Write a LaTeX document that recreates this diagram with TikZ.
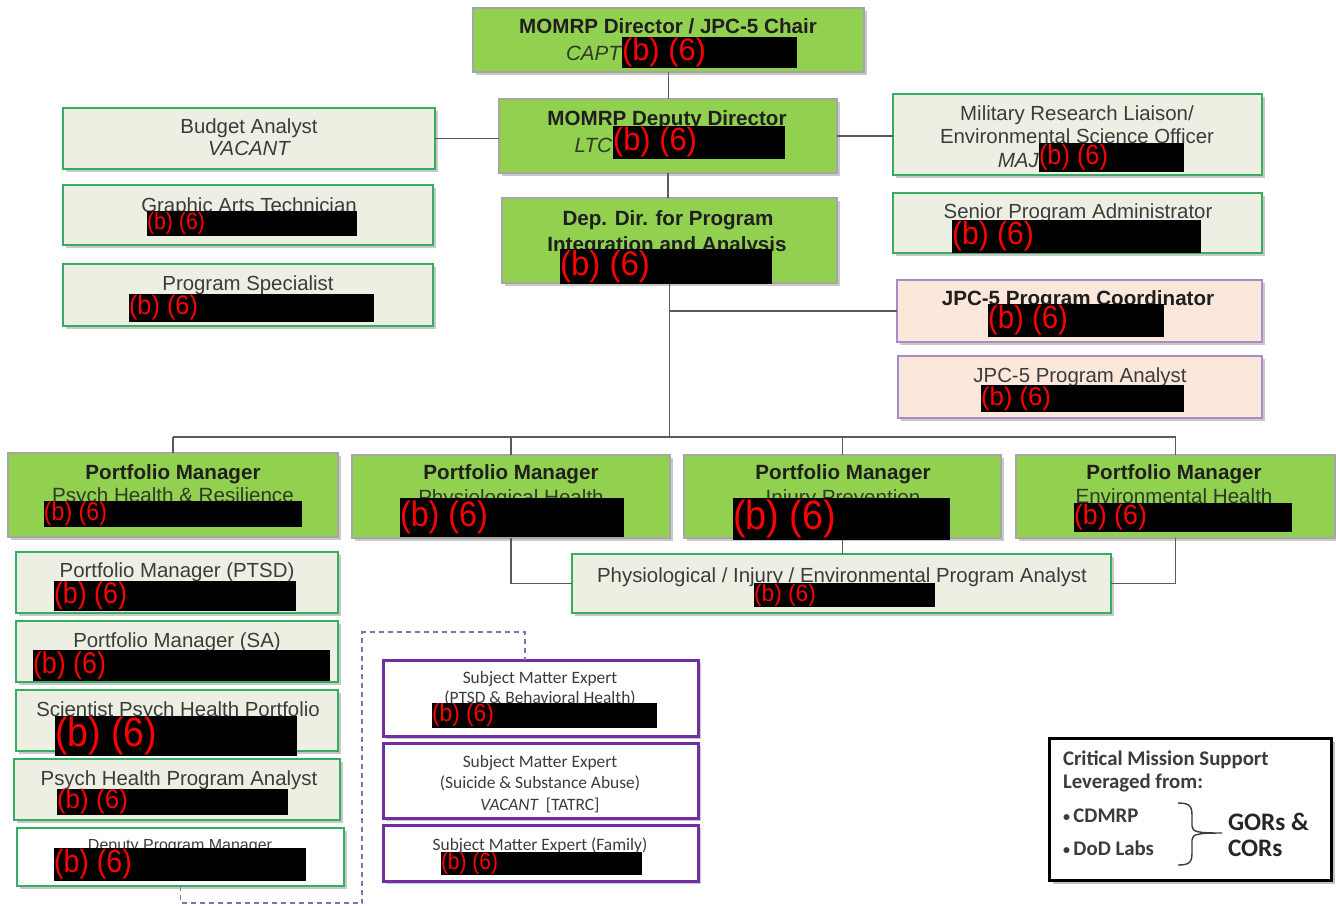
\documentclass[tikz,border=0pt]{standalone}
\usepackage{graphicx}
\usepackage{fontspec}
\setmainfont{Liberation Sans}
\newfontfamily\calib{Carlito}
\usetikzlibrary{fit,shadows}

\definecolor{topgreen}{HTML}{92D050}
\definecolor{paleg}{HTML}{ECEFE2}
\definecolor{edgeg}{HTML}{35AE62}
\definecolor{peach}{HTML}{FCE8DA}
\definecolor{lilac}{HTML}{A58DC6}
\definecolor{smepurple}{HTML}{7030A0}
\definecolor{linkgray}{HTML}{5A5A5A}
\definecolor{txtgray}{HTML}{3C3C3C}
\definecolor{subgreen}{HTML}{2F3A28}
\definecolor{dashlilac}{HTML}{8E6BB0}

\tikzset{
  every node/.style={inner sep=0pt, outer sep=0pt},
  shadowed/.style={drop shadow={shadow xshift=1.5pt, shadow yshift=-1.5pt, opacity=0.35, fill=black!60}},
  leadbox/.style={fill=topgreen, draw=black!35, line width=0.6pt, shadowed},
  staffbox/.style={fill=paleg, draw=edgeg, line width=1.4pt, shadowed},
  plainbox/.style={fill=white, draw=edgeg, line width=1.4pt, shadowed},
  jpcbox/.style={fill=peach, draw=lilac, line width=1pt, shadowed},
  smebox/.style={fill=white, draw=smepurple, line width=1.5pt, shadowed},
  keybox/.style={fill=white, draw=black, line width=1.5pt, drop shadow={shadow xshift=2pt, shadow yshift=-2pt, opacity=0.4, fill=black!60}},
  link/.style={draw=linkgray, line width=0.8pt},
  dotlink/.style={draw=dashlilac, line width=0.6pt, dash pattern=on 2.5pt off 2pt},
  ttl/.style={font=\fontsize{10.3}{12}\selectfont\bfseries, text=black!88, anchor=base},
  sub/.style={font=\fontsize{10.3}{12}\selectfont, text=subgreen, anchor=base},
  lbl/.style={font=\fontsize{10.2}{12}\selectfont, text=txtgray, anchor=base},
  rank/.style={font=\fontsize{10.3}{12}\selectfont\itshape, text=subgreen, anchor=base east},
  sme/.style={font=\calib\fontsize{8.7}{10}\selectfont, text=txtgray, anchor=base},
  keytxt/.style={font=\calib\bfseries\fontsize{10.4}{12}\selectfont, text=txtgray, anchor=base west},
  keybig/.style={font=\calib\bfseries\fontsize{12.6}{15}\selectfont, text=black!85, anchor=base west},
  redbar/.style={fill=black, draw=none}
}

% black bar with the red exemption code at its left end
\newcommand\redact[7]{%
  \node[redbar, fit={(#2,#3) (#4,#5)}] (#1) {};
  \node[anchor=west, text=red] (#1txt) at (#1.west) {\resizebox*{#6pt}{#7pt}{(b) (6)}};}
\newcommand\keydot{\raisebox{0.1ex}{\fontsize{7}{8}\selectfont •}\,}

\begin{document}
\begin{tikzpicture}[x=0.5pt, y=-0.5pt]
\useasboundingbox (0,0) rectangle (1336,905);
\fill[white] (0,0) rectangle (1336,905);

% ---------- boxes ----------
\node[leadbox, fit={(473,8) (864,72)}] (dir) {};
\node[leadbox, fit={(499,99) (837,173)}] (dep) {};
\node[leadbox, fit={(502,198) (837,283)}] (pia) {};

\node[staffbox, fit={(63,108) (435,169)}] (bud) {};
\node[staffbox, fit={(63,185) (433,245)}] (gat) {};
\node[staffbox, fit={(63,264) (433,326)}] (psp) {};

\node[staffbox, fit={(893,94) (1262,175)}] (mil) {};
\node[staffbox, fit={(893,193) (1262,253)}] (spa) {};
\node[jpcbox, fit={(897,280) (1262,342)}] (jpc) {};
\node[jpcbox, fit={(898,356) (1262,418)}] (jpa) {};

\node[leadbox, fit={(8,453) (338,537)}] (pmp) {};
\node[leadbox, fit={(352,455) (670,538)}] (pmh) {};
\node[leadbox, fit={(684,455) (1001,538)}] (pmi) {};
\node[leadbox, fit={(1016,455) (1335,538)}] (pme) {};

\node[staffbox, fit={(572,554) (1111,613)}] (ana) {};

\node[staffbox, fit={(16,552) (338,613)}] (ptsd) {};
\node[staffbox, fit={(16,621) (338,682)}] (sa) {};
\node[staffbox, fit={(16,690) (338,751)}] (sci) {};
\node[staffbox, fit={(14,759) (340,820)}] (pha) {};
\node[plainbox, fit={(17,828) (344,886)}] (dpm) {};

\node[smebox, fit={(383,660) (698,736)}] (smeA) {};
\node[smebox, fit={(383,743) (698,818)}] (smeB) {};
\node[smebox, fit={(383,825) (698,881)}] (smeC) {};

\node[keybox, fit={(1049,738) (1331,880)}] (key) {};

% ---------- connectors ----------
\coordinate (bus) at (668,437);
\coordinate (dtop) at (362,632);
\coordinate (dright) at (525,632);

\draw[link] (dir.south) -- (dir.south |- dep.north);
\draw[link] (dep.south) -- (dep.south |- pia.north);
\draw[link] (bud.east) -- (bud.east -| dep.west);
\draw[link] (dep.east) -- (dep.east -| mil.west);
\draw[link] (pia.south) -- (pia.south |- bus);
\draw[link] (pia.south |- jpc.west) -- (jpc.west);
\draw[link] (pmp.north |- bus) -- (pme.north |- bus);
\draw[link] (pmp.north |- bus) -- (pmp.north);
\draw[link] (pmh.north |- bus) -- (pmh.north);
\draw[link] (pmi.north |- bus) -- (pmi.north);
\draw[link] (pme.north |- bus) -- (pme.north);
\draw[link] (pmh.south) |- (ana.west);
\draw[link] (pmi.south) -- (pmi.south |- ana.north);
\draw[link] (pme.south) |- (ana.east);
\draw[dotlink] (dpm.south) -- ++(0,17) -| (dtop) -- (dright) -- (dright |- smeA.north);

% ---------- texts ----------
\node[ttl] (dirT) at (668,33) {MOMRP Director / JPC-5 Chair};
\node[rank] (dirK) at (621,60) {CAPT};
\node[ttl] (depT) at (667,125) {MOMRP Deputy Director};
\node[rank] (depK) at (612,152) {LTC};
\node[ttl] (piaT1) at (668,225) {Dep. Dir. for Program};
\node[ttl] (piaT2) at (667,251) {Integration and Analysis};

\node[lbl] (budT) at (249,133) {Budget Analyst};
\node[lbl, font=\fontsize{10.2}{12}\selectfont\itshape] (budV) at (249,155) {VACANT};
\node[lbl] (gatT) at (249,212) {Graphic Arts Technician};
\node[lbl] (pspT) at (248,290) {Program Specialist};

\node[lbl] (milT1) at (1077,120) {Military Research Liaison/};
\node[lbl] (milT2) at (1077,143) {Environmental Science Officer};
\node[rank, text=txtgray] (milK) at (1039,167) {MAJ};
\node[lbl] (spaT) at (1078,218) {Senior Program Administrator};
\node[ttl] (jpcT) at (1078,305) {JPC-5 Program Coordinator};
\node[lbl] (jpaT) at (1080,382) {JPC-5 Program Analyst};

\node[ttl] (pmpT) at (173,479) {Portfolio Manager};
\node[sub] (pmpS) at (173,502) {Psych Health \& Resilience};
\node[ttl] (pmhT) at (511,479) {Portfolio Manager};
\node[sub] (pmhS) at (511,504) {Physiological Health};
\node[ttl] (pmiT) at (843,479) {Portfolio Manager};
\node[sub] (pmiS) at (843,504) {Injury Prevention};
\node[ttl] (pmeT) at (1174,479) {Portfolio Manager};
\node[sub] (pmeS) at (1174,503) {Environmental Health};

\node[lbl] (anaT) at (842,582) {Physiological / Injury / Environmental Program Analyst};

\node[lbl] (ptsdT) at (177,577) {Portfolio Manager (PTSD)};
\node[lbl] (saT) at (177,647) {Portfolio Manager (SA)};
\node[lbl] (sciT) at (178,716) {Scientist Psych Health Portfolio};
\node[lbl] (phaT) at (179,785) {Psych Health Program Analyst};
\node[lbl, font=\fontsize{8}{10}\selectfont] (dpmT) at (180,850) {Deputy Program Manager};

\node[sme] (smeA1) at (540,683) {Subject Matter Expert};
\node[sme] (smeA2) at (540,703) {(PTSD \& Behavioral Health)};
\node[sme] (smeB1) at (540,767) {Subject Matter Expert};
\node[sme] (smeB2) at (540,788) {(Suicide \& Substance Abuse)};
\node[sme] (smeB3) at (540,810) {\itshape VACANT\upshape\ \ [TATRC]};
\node[sme] (smeC1) at (540,850) {Subject Matter Expert (Family)};

\node[keytxt] (key1) at (1063,765) {Critical Mission Support};
\node[keytxt] (key2) at (1063,788) {Leveraged from:};
\node[keytxt] (key3) at (1063,822) {\keydot CDMRP};
\node[keytxt] (key4) at (1063,855) {\keydot DoD Labs};
\node[keybig] (key5) at (1228,830) {GORs \&};
\node[keybig] (key6) at (1228,856) {CORs};
\draw[draw=txtgray, line width=0.7pt]
  (1178,803) .. controls (1192,803) and (1192,808) .. (1192,818) -- (1192,826)
  .. controls (1192,832) and (1198,833) .. (1222,833)
  .. controls (1198,833) and (1192,834) .. (1192,840) -- (1192,852)
  .. controls (1192,862) and (1190,865) .. (1178,865);

% ---------- withheld names ----------
\redact{dirR}{622}{37}{797}{68}{42}{14.5}
\redact{depR}{613}{126}{785}{159}{42}{15}
\redact{piaR}{560}{249}{772}{284}{45}{16}
\redact{gatR}{147}{211}{357}{236}{29}{11}
\redact{pspR}{129}{294}{374}{322}{34.5}{12.5}
\redact{milR}{1039}{143}{1184}{172}{34.5}{13}
\redact{spaR}{952}{220}{1201}{253}{41}{15}
\redact{jpcR}{988}{304}{1164}{337}{40}{15}
\redact{jpaR}{981}{385}{1184}{412}{35}{12}
\redact{pmpR}{44}{501}{302}{527}{31.5}{12}
\redact{pmhR}{400}{498}{624}{537}{44}{16.5}
\redact{pmiR}{733}{498}{950}{540}{51.5}{19}
\redact{pmeR}{1074}{503}{1292}{532}{36.5}{13}
\redact{anaR}{754}{583}{935}{607}{31}{11}
\redact{ptsdR}{54}{581}{296}{611}{36.5}{14}
\redact{saR}{33}{650}{330}{681}{36.5}{14}
\redact{sciR}{55}{716}{297}{756}{51}{19}
\redact{phaR}{57}{789}{288}{815}{35.5}{12.5}
\redact{dpmR}{54}{848}{306}{881}{39}{15}
\redact{smeAR}{432}{703}{657}{728}{31}{11.5}
\redact{smeCR}{441}{852}{642}{875}{28.5}{11}
\end{tikzpicture}
\end{document}
